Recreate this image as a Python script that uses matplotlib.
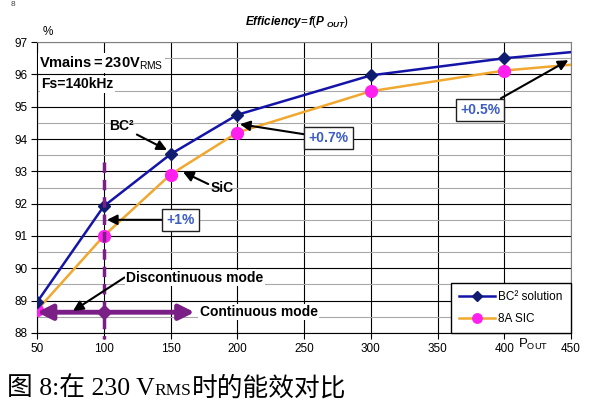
import matplotlib.pyplot as plt
from matplotlib.offsetbox import TextArea, HPacker, AnchoredOffsetbox
from matplotlib.ticker import MultipleLocator

plt.rcParams['font.family'] = ['Liberation Sans', 'DejaVu Sans']
plt.rcParams['mathtext.fontset'] = 'custom'
plt.rcParams['mathtext.rm'] = 'Liberation Sans'
plt.rcParams['mathtext.it'] = 'Liberation Sans:italic:bold'
plt.rcParams['mathtext.bf'] = 'Liberation Sans:bold'

# data
p_out = [50, 100, 150, 200, 300, 400, 450]
bc2 = [88.95, 91.92, 93.53, 94.75, 95.97, 96.50, 96.69]
sic = [88.70, 91.00, 92.90, 94.20, 95.48, 96.12, 96.30]

x_ticks = [50, 100, 150, 200, 250, 300, 350, 400, 450]
y_ticks = [88, 89, 90, 91, 92, 93, 94, 95, 96, 97]

blue = '#1414a8'
navy = '#101c70'
orange = '#f0a830'
pink = '#ff20f0'
purple = '#7a1f86'
note_blue = '#3b5cc4'

fig = plt.figure(figsize=(5.91, 4.05), dpi=100)
ax = fig.add_axes([0.0626, 0.178, 0.9036, 0.718])

ax.set_xlim(50, 450)
ax.set_ylim(88, 97)
ax.set_xticks(x_ticks)
ax.set_yticks(y_ticks)
ax.yaxis.set_minor_locator(MultipleLocator(0.5))
ax.grid(True, which='major', color='black', lw=0.8)
ax.grid(True, which='minor', axis='y', color='#a8a8a8', lw=0.8)
ax.tick_params(which='major', direction='out', length=4, labelsize=8.5, pad=3)
ax.tick_params(which='minor', length=0)
ax.set_axisbelow(True)
for s in ['top', 'right']:
    ax.spines[s].set_color('#808080')

ax.plot(p_out, bc2, color=blue, lw=1.8, marker='D', ms=6, mfc=navy, mec=navy,
        markevery=slice(0, 6), label='BC² solution', zorder=4)
ax.plot(p_out, sic, color=orange, lw=1.8, marker='o', ms=8.5, mfc=pink, mec=pink,
        markevery=slice(0, 6), label='8A SIC', zorder=3)

# mode boundary
ax.plot([100, 100], [93.3, 87.8], color=purple, lw=2.5, ls=(0, (3, 2)),
        clip_on=False, zorder=5)
ax.annotate('', xy=(50, 88.64), xytext=(168, 88.64),
            arrowprops=dict(arrowstyle='<|-|>,head_length=0.9,head_width=0.45',
                            color=purple, lw=3.5, shrinkA=0, shrinkB=0), zorder=5)
ax.plot([100], [88.64], marker='D', ms=7, color=purple, zorder=6)

bold = dict(fontsize=10, fontweight='bold')
arrow = dict(arrowstyle='-|>,head_length=0.6,head_width=0.3', color='black', lw=1.5,
             shrinkA=0, shrinkB=0)

ax.text(51.5, 96.35, r'$\mathbf{Vmains=230V}_{\mathrm{RMS}}$', fontsize=10.5,
        va='center', ha='left', bbox=dict(fc='white', ec='none', pad=1), zorder=6)
ax.text(53, 95.7, 'Fs=140kHz', va='center', ha='left',
        bbox=dict(fc='white', ec='none', pad=1), zorder=6, **bold)

ax.annotate('BC²', xy=(147.4, 93.66), xytext=(113.5, 94.4), va='center', ha='center',
            arrowprops=dict(arrow, relpos=(1, 0)), **bold)
ax.annotate('SiC', xy=(159.4, 92.98), xytext=(189, 92.48), va='center', ha='center',
            arrowprops=dict(arrow, relpos=(0, 0.7)), **bold)
box = dict(fc='white', ec='#202020', lw=1, boxstyle='square,pad=0.3')
ax.annotate('+0.7%', xy=(202, 94.46), xytext=(268.5, 94.03), va='center', ha='center',
            color=note_blue, bbox=box, arrowprops=arrow, zorder=6, **bold)
ax.annotate('+0.5%', xy=(448, 96.44), xytext=(382, 94.9), va='center', ha='center',
            color=note_blue, bbox=box, arrowprops=arrow, zorder=6, **bold)
ax.annotate('+1%', xy=(102.4, 91.5), xytext=(157.3, 91.5), va='center', ha='center',
            color=note_blue, bbox=box, arrowprops=arrow, zorder=6, **bold)
ax.annotate('Discontinuous mode', xy=(77, 88.68), xytext=(168, 89.7), va='center',
            ha='center', bbox=dict(fc='white', ec='none', pad=1),
            arrowprops=dict(arrow, relpos=(0, 0.6)), zorder=6, **bold)
ax.text(172, 88.65, 'Continuous mode', va='center', ha='left',
        bbox=dict(fc='white', ec='none', pad=1), zorder=6, **bold)

leg = ax.legend(loc='lower right', bbox_to_anchor=(1.0, 0.0), fontsize=8.5,
                fancybox=False, edgecolor='black', framealpha=1, borderaxespad=0,
                handlelength=3.0, labelspacing=0.8, borderpad=0.7, handletextpad=0.3,
                markerscale=0.8)
leg.get_frame().set_linewidth(1.0)

ax.text(0.01, 1.034, '%', transform=ax.transAxes, fontsize=8.5, va='center')
ax.text(0.487, 1.04, r'$Efficiency\!=\!f(P_{\ OUT})$', transform=ax.transAxes,
        fontsize=8.5, ha='center', va='bottom')
ax.text(422, 87.65, r'$\mathrm{P}_{\mathrm{OUT}}$', fontsize=9.5, ha='center', va='center')

fig.text(0.018, 0.997, '8', fontsize=6, va='top', color='#404040')

# caption below the chart
cap_font = ['Liberation Serif', 'Noto Sans CJK SC']
big = dict(fontsize=18.5, family=cap_font)
parts = [TextArea('图 8:在 230 V', textprops=big),
         TextArea('RMS', textprops=dict(fontsize=12.5, family=cap_font)),
         TextArea('时的能效对比', textprops=big)]
cap = HPacker(children=parts, align='baseline', pad=0, sep=0)
fig.add_artist(AnchoredOffsetbox(loc='lower left', child=cap, frameon=False, pad=0,
                                 bbox_to_anchor=(0.012, 0.012),
                                 bbox_transform=fig.transFigure, borderpad=0))

fig.savefig('out.png', dpi=100)
